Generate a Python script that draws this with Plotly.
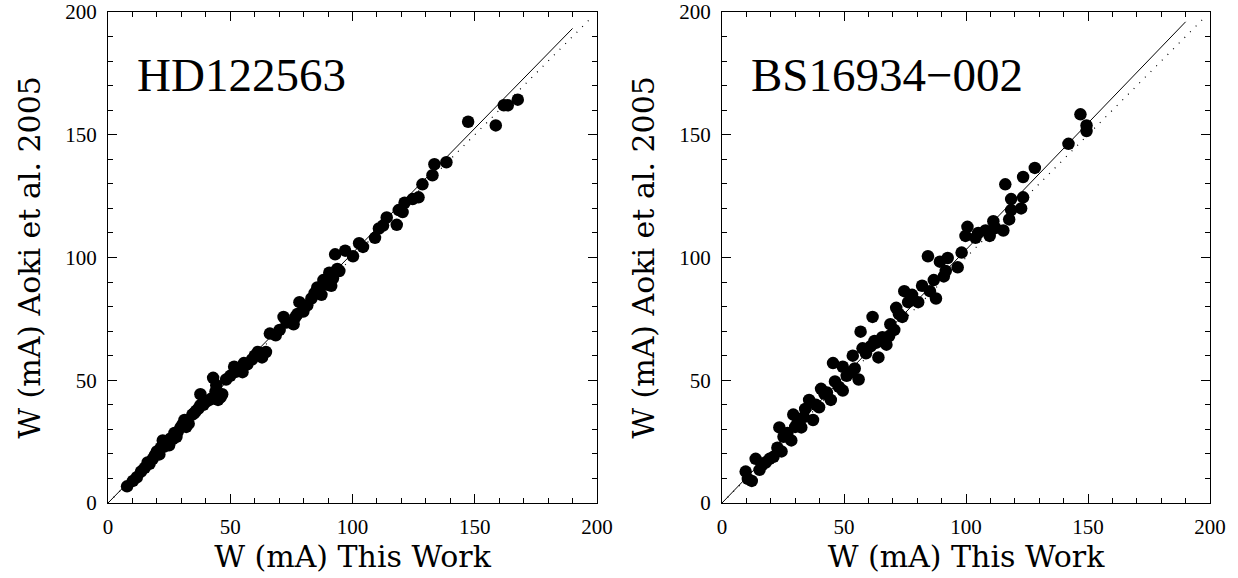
import plotly.graph_objects as go

# ---- Data: HD122563 (left panel) ----
hd_x = [7.8, 10.2, 11.8, 13.5, 15.0, 16.2, 17.0, 18.3, 19.2, 20.0, 21.0, 21.6, 22.4, 23.0, 24.0, 25.0,
        25.6, 26.5, 27.2, 28.0, 28.5, 29.7, 30.5, 31.3, 32.0, 33.0, 34.5, 35.2, 36.0, 37.0, 37.8, 37.8,
        39.0, 40.2, 41.5, 42.7, 43.0, 44.0, 44.3, 45.0, 46.0, 46.7, 48.3, 50.0, 51.6, 52.5, 53.2, 55.0,
        55.6, 57.0, 58.9, 60.0, 61.3, 63.0, 64.6, 66.2, 68.6, 70.2, 71.8, 73.0, 75.9, 76.7, 77.5, 78.3,
        79.9, 81.5, 83.2, 84.5, 85.6, 87.3, 88.1, 89.5, 90.5, 91.3, 92.0, 92.9, 93.8, 94.6, 97.0, 100.2,
        102.7, 104.3, 109.2, 110.8, 112.5, 114.0, 118.1, 118.9, 120.5, 121.3, 124.6, 127.0, 128.6,
        132.7, 133.5, 138.4, 147.3, 158.6, 161.9, 163.5, 167.6]
hd_y = [6.8, 9.0, 10.5, 12.8, 14.3, 16.5, 16.0, 18.0, 19.5, 21.0, 19.8, 22.5, 25.5, 23.0, 24.0, 23.5,
        26.3, 26.0, 28.5, 27.0, 29.0, 30.8, 32.0, 33.8, 31.0, 32.3, 36.0, 36.5, 37.5, 38.5, 39.8, 44.3,
        40.0, 41.3, 42.0, 42.8, 51.0, 45.5, 48.0, 42.0, 43.0, 44.3, 50.3, 51.8, 55.5, 53.5, 54.8, 53.3,
        57.0, 56.5, 58.5, 60.0, 61.5, 59.3, 61.5, 69.0, 68.3, 70.5, 75.8, 73.5, 72.8, 75.8, 77.0, 81.8,
        78.0, 80.5, 83.3, 85.5, 87.8, 84.8, 90.8, 89.0, 93.8, 88.5, 91.5, 101.3, 95.3, 94.5, 102.8,
        100.5, 105.8, 104.3, 108.0, 111.8, 113.0, 116.3, 113.3, 119.3, 118.5, 122.3, 123.8, 124.5,
        129.8, 133.5, 138.0, 138.8, 155.3, 153.8, 162.0, 162.0, 164.3]

# ---- Data: BS16934-002 (right panel) ----
bs_x = [9.7, 10.6, 12.2, 13.8, 15.4, 16.5, 17.9, 19.5, 21.1, 22.7, 23.5, 24.4, 25.2, 26.8, 28.4, 29.2,
        30.0, 30.8, 32.5, 33.5, 34.1, 35.7, 37.3, 38.5, 39.8, 40.6, 42.0, 43.0, 44.6, 45.5, 46.3, 47.9,
        49.5, 49.5, 51.1, 52.5, 53.6, 54.4, 56.0, 56.8, 57.6, 59.0, 60.9, 61.7, 62.5, 63.3, 64.1, 65.7,
        67.4, 68.5, 69.0, 70.6, 71.4, 72.5, 73.9, 74.7, 76.3, 77.9, 80.4, 82.0, 84.4, 85.2, 86.8, 87.7,
        89.3, 90.9, 91.7, 92.5, 96.6, 98.2, 99.8, 100.6, 103.9, 105.0, 108.0, 109.7, 111.2, 112.0,
        115.3, 116.1, 117.7, 118.5, 118.5, 122.6, 123.4, 123.4, 128.2, 142.0, 146.9, 149.4, 149.4]
bs_y = [12.8, 9.8, 9.0, 18.0, 13.5, 15.5, 16.5, 18.0, 18.8, 22.5, 30.8, 21.0, 27.0, 28.5, 25.5, 36.0,
        31.0, 32.3, 30.8, 35.0, 38.3, 42.0, 33.8, 40.0, 39.0, 46.5, 44.5, 45.0, 42.0, 57.0, 49.5, 47.3,
        55.5, 45.8, 51.8, 53.0, 60.0, 54.8, 50.3, 69.8, 63.0, 61.0, 63.8, 75.8, 66.0, 65.3, 59.3, 67.5,
        64.5, 68.0, 72.8, 70.5, 79.5, 77.0, 75.8, 86.3, 81.8, 84.8, 81.8, 88.5, 100.5, 86.3, 90.8, 83.3,
        98.3, 92.3, 94.5, 99.8, 96.0, 102.0, 108.8, 112.5, 108.0, 110.0, 111.0, 108.8, 114.8, 112.0,
        111.0, 129.8, 115.5, 119.3, 123.8, 120.0, 124.5, 132.8, 136.5, 146.3, 158.3, 153.8, 151.5]

# fitted (solid) and one-to-one (dotted) lines
hd_fit_x = [0, 190]
hd_fit_y = [0, 193.3]
bs_fit_x = [0, 190]
bs_fit_y = [0, 196.0]
one_x = [0, 198]
one_y = [0, 198]

labels = ["HD122563", "BS16934\u2212002"]
x_title = "W (mA) This Work"
y_title = "W (mA) Aoki et al. 2005"
tick_vals = [0, 50, 100, 150, 200]

fig = go.Figure()
panels = [("x", "y", hd_x, hd_y, hd_fit_x, hd_fit_y),
          ("x2", "y2", bs_x, bs_y, bs_fit_x, bs_fit_y)]
for xa, ya, px, py, fx, fy in panels:
    fig.add_trace(go.Scatter(x=one_x, y=one_y, mode="lines", xaxis=xa, yaxis=ya,
                             line=dict(color="black", width=1.2, dash="1px,7px"),
                             showlegend=False, hoverinfo="skip"))
    fig.add_trace(go.Scatter(x=fx, y=fy, mode="lines", xaxis=xa, yaxis=ya,
                             line=dict(color="black", width=1),
                             showlegend=False, hoverinfo="skip"))
    fig.add_trace(go.Scatter(x=px, y=py, mode="markers", xaxis=xa, yaxis=ya,
                             marker=dict(color="black", size=12.5, line=dict(width=0)),
                             showlegend=False))

W, H = 1238, 578
ydom = [1 - 503 / H, 1 - 12 / H]
xdoms = [[108 / W, 597 / W], [722 / W, 1210 / W]]

tickfont = dict(family="Liberation Serif", size=21, color="black")
titlefont = dict(family="DejaVu Serif", size=30, color="black")

def axis_common():
    return dict(range=[0, 200], tickvals=tick_vals, ticks="inside", ticklen=9, tickwidth=1,
                tickcolor="black", showline=True, linecolor="black", linewidth=1, mirror="ticks",
                showgrid=False, zeroline=False, tickfont=tickfont, automargin=False,
                minor=dict(ticks="inside", dtick=10, ticklen=5, tickcolor="black", tickwidth=1,
                           showgrid=False))

layout = dict(width=W, height=H, margin=dict(l=0, r=0, t=0, b=0),
              paper_bgcolor="white", plot_bgcolor="white", showlegend=False)
for i, suffix in enumerate(["", "2"]):
    xa = axis_common()
    xa.update(domain=xdoms[i], anchor="y" + suffix,
              title=dict(text=x_title, font=titlefont, standoff=0), ticklabelstandoff=5)
    ya = axis_common()
    ya.update(domain=ydom, anchor="x" + suffix,
              title=dict(text=y_title, font=titlefont, standoff=15), ticklabelstandoff=6)
    layout["xaxis" + suffix] = xa
    layout["yaxis" + suffix] = ya

fig.update_layout(**layout)

for i, suffix in enumerate(["", "2"]):
    fig.add_annotation(x=0.055, y=0.872, xref=f"x{suffix} domain", yref=f"y{suffix} domain",
                       text=labels[i], showarrow=False, xanchor="left", yanchor="middle",
                       font=dict(family="Liberation Serif", size=47, color="black"))

fig.write_html("out.html", config={"displayModeBar": False},
               post_script="document.body.style.margin='0px';")
